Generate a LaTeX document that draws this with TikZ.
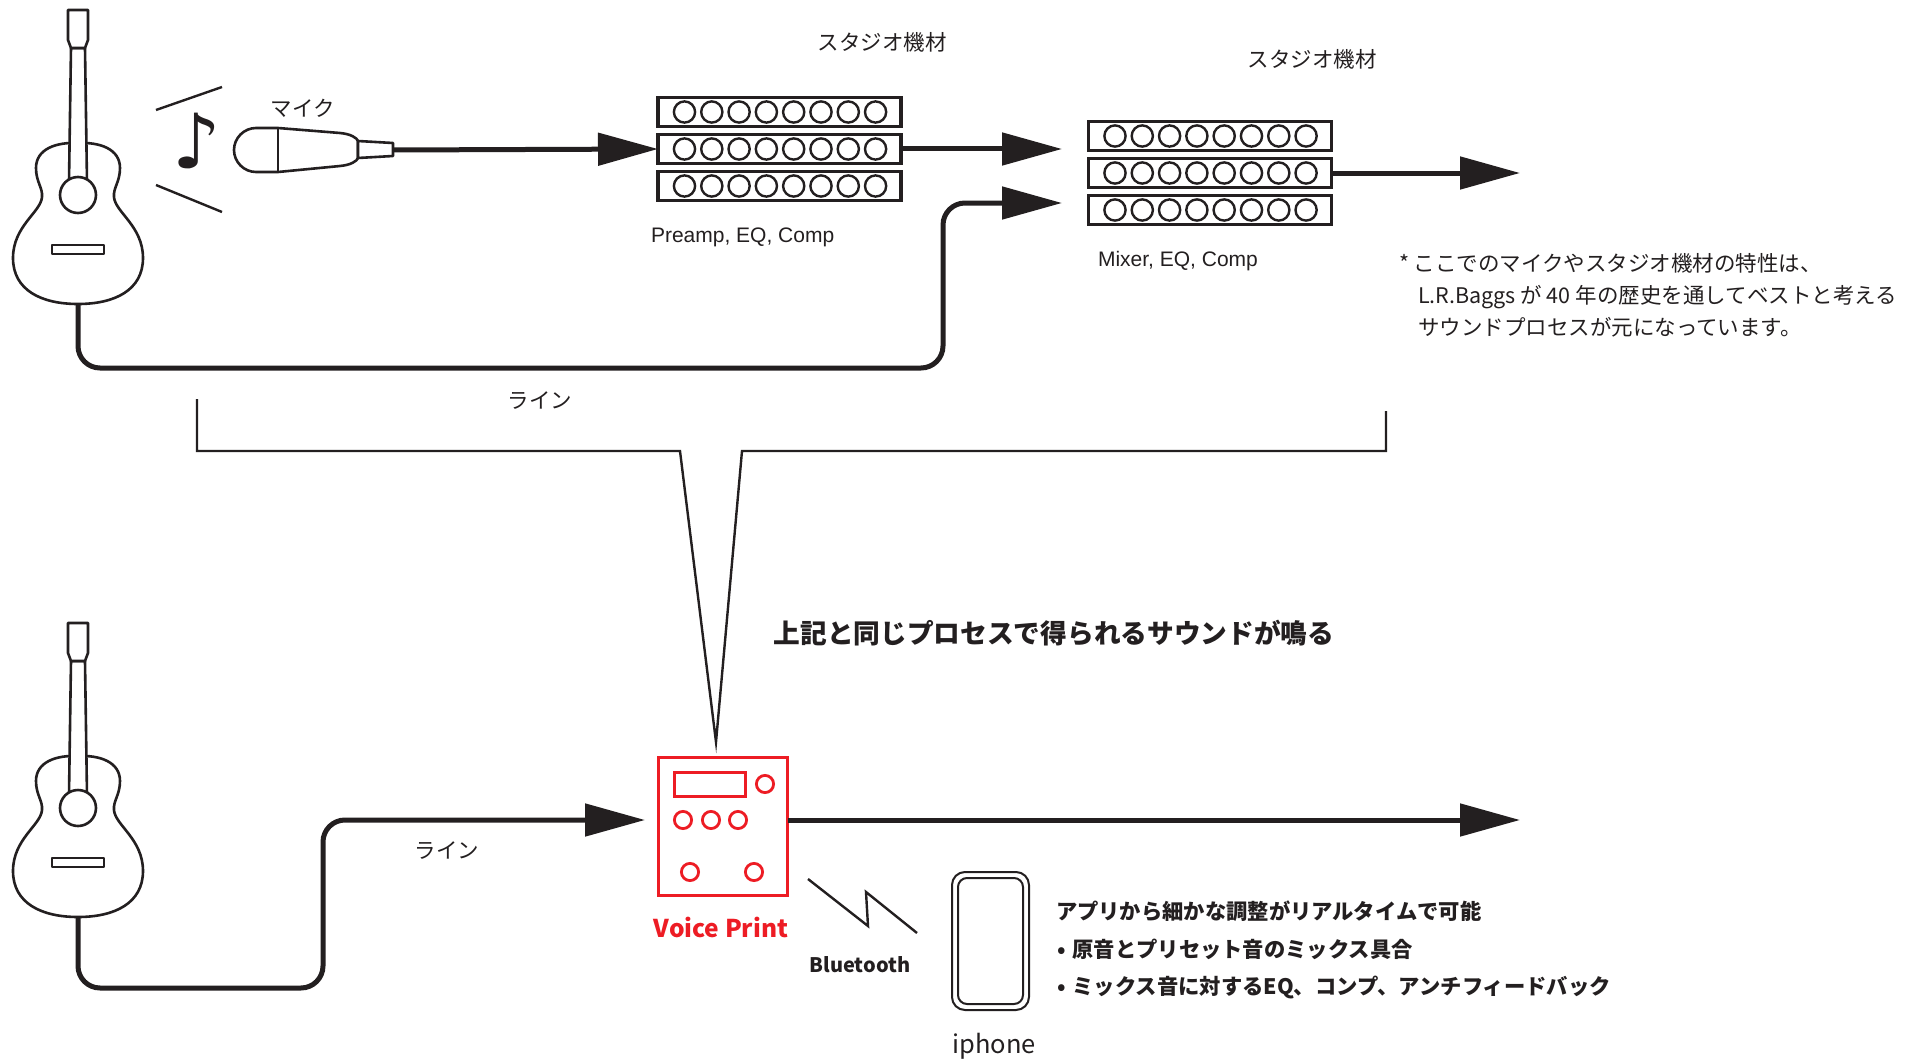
\documentclass[tikz,border=0pt]{standalone}
\usepackage{fontspec}
\setmainfont{Noto Sans CJK JP}
\newfontfamily\latinsans{Liberation Sans}
\newfontfamily\symbolsans{DejaVu Sans}
\usetikzlibrary{arrows.meta}
\definecolor{ink}{HTML}{231F20}
\definecolor{vpred}{HTML}{ED1C24}

\tikzset{
  outline/.style={draw=ink, line width=2.6pt, line join=round},
  guitar/.pic={
    % body
    \draw[outline, fill=white] (78,143) .. controls (100,142) and (120,149) .. (120,168)
      .. controls (120,182) and (113,188) .. (114,197)
      .. controls (115,212) and (143,226) .. (143,258)
      .. controls (143,290) and (115,304) .. (78,304)
      .. controls (41,304) and (13,290) .. (13,258)
      .. controls (13,226) and (41,212) .. (42,197)
      .. controls (43,188) and (36,182) .. (36,168)
      .. controls (36,149) and (56,142) .. (78,143) -- cycle;
    % neck
    \draw[outline, fill=white] (71,48) -- (69,182) -- (87,182) -- (85,48) -- cycle;
    % headstock
    \draw[outline, fill=white] (71,48) -- (68,40) -- (68,10) -- (88,10) -- (88,40) -- (85,48) -- cycle;
    % sound hole
    \draw[outline, fill=white] (78,195) circle[radius=18pt];
    % bridge
    \draw[outline] (52,245) rectangle (104,254);
    \coordinate (-jack) at (78,304);
  }
}

\begin{document}
\begin{tikzpicture}[x=1pt, y=-1pt,
  every node/.style={inner sep=0pt, outer sep=0pt, text=ink},
  cable/.style={draw=ink, line width=5pt, rounded corners=22pt},
  flow/.style={draw=ink, line width=5pt, -{Triangle[length=60pt,width=32pt]}},
  rackrow/.style={draw=ink, line width=3.4pt, fill=white, minimum width=243pt, minimum height=28.5pt},
  knob/.style={draw=ink, line width=2.4pt},
  thin/.style={draw=ink, line width=2.4pt},
  redline/.style={draw=vpred, line width=2.8pt},
  jp/.style={font=\fontsize{21.5}{26}\selectfont},
  jpbold/.style={font=\fontsize{21.3}{26}\selectfont\bfseries},
  latin/.style={font=\latinsans\fontsize{21}{25}\selectfont},
]
\useasboundingbox (0,0) rectangle (1914,1062);

% ---------- upper chain: guitar, microphone, studio racks ----------
\pic (g1) at (0,0) {guitar};

% sound lines and note
\draw[thin] (156,110) -- (222,87);
\draw[thin] (156,185) -- (222,212);
\node[font=\symbolsans\fontsize{76}{80}\selectfont] (note) at (197,141) {♪};

% microphone
\draw[outline, fill=white] (278,128) -- (340,133) .. controls (351,134) and (357,138) .. (358,141)
  -- (358,158) .. controls (357,161) and (351,165) .. (340,166) -- (278,172) -- (256,172)
  .. controls (244,172) and (234,162) .. (234,150) .. controls (234,138) and (244,128) .. (256,128) -- cycle;
\draw[outline] (278,128) -- (278,172);
\draw[outline, fill=white] (358,141) -- (393,143) -- (393,156) -- (358,158) -- cycle;
\coordinate (micout) at (393,150);
\node[jp] (miclabel) at (303,108) {マイク};

% rack: preamp
\node[rackrow] (r1a) at (779.5,112) {};
\node[rackrow] (r1b) at (779.5,149) {};
\node[rackrow] (r1c) at (779.5,186) {};
% rack: mixer
\node[rackrow] (r2a) at (1210,136) {};
\node[rackrow] (r2b) at (1210,173) {};
\node[rackrow] (r2c) at (1210,210) {};
\foreach \r in {r1a,r1b,r1c,r2a,r2b,r2c}
  \foreach \k in {0,...,7}
    \draw[knob] ([xshift={26.5pt+\k*27.3pt}]\r.west) circle[radius=10.6pt];

\node[jp] (studio1) at (882,42) {スタジオ機材};
\node[jp] (studio2) at (1312,59) {スタジオ機材};
\node[latin, anchor=base west] (prelabel) at (651,242) {Preamp, EQ, Comp};
\node[latin, anchor=base west] (mixlabel) at (1098,266) {Mixer, EQ, Comp};

\node[jp, anchor=base west] (note1) at (1399,271) {* ここでのマイクやスタジオ機材の特性は、};
\node[jp, anchor=base west] (note2) at (1418,303) {L.R.Baggs が 40 年の歴史を通してベストと考える};
\node[jp, anchor=base west] (note3) at (1418,335) {サウンドプロセスが元になっています。};

% signal flow
\coordinate (mixinA) at (1062,149);
\coordinate (mixinB) at (1062,203);
\coordinate (linebend) at (943,368);
\coordinate (mixout) at (1520,173);
\draw[flow] (micout) -- (r1b.west);
\draw[flow] (r1b.east) -- (mixinA);
\draw[flow] (r2b.east) -- (mixout);
\draw[cable, -{Triangle[length=60pt,width=32pt]}] (g1-jack) |- (linebend) |- (mixinB);
\node[jp] (line1) at (540,401) {ライン};

% bracket pointing down to the pedal
\draw[ink, line width=2.4pt, line join=miter] (197,399) -- (197,451) -- (680,451) -- (716,742)
  -- (742,451) -- (1386,451) -- (1386,411);

\node[font=\fontsize{26.7}{30}\selectfont\bfseries] (headline) at (1054,633) {上記と同じプロセスで得られるサウンドが鳴る};

% ---------- lower chain: guitar, Voice Print, iphone ----------
\pic (g2) at (0,613) {guitar};

\node[draw=vpred, line width=2.8pt, minimum width=129pt, minimum height=138pt] (vp) at (723,826.5) {};
\draw[redline] (674.5,772.5) rectangle (745.5,796.5);
\draw[redline] (765,784) circle[radius=8.6pt];
\foreach \cx in {683,711,738}
  \draw[redline] (\cx,820) circle[radius=8.6pt];
\draw[redline] (690,872) circle[radius=8.6pt];
\draw[redline] (754,872) circle[radius=8.6pt];
\node[anchor=base, text=vpred, font=\fontsize{24.5}{28}\selectfont\bfseries] (vplabel) at (721,937) {Voice Print};

\coordinate (vpin) at (645,820);
\coordinate (lowbend) at (323,988);
\coordinate (vpout) at (1520,820);
\draw[cable, -{Triangle[length=60pt,width=32pt]}] (g2-jack) |- (lowbend) |- (vpin);
\draw[flow] (vp.east |- vpin) -- (vpout);
\node[jp] (line2) at (447,851) {ライン};

% bluetooth link
\draw[thin, line join=miter] (808,879) -- (868,926) -- (866,892) -- (917,933);
\node[anchor=base, font=\fontsize{20}{24}\selectfont\bfseries] (bt) at (860,972) {Bluetooth};

% phone
\draw[ink, line width=2pt, rounded corners=13pt] (952,872) rectangle (1029,1010);
\draw[ink, line width=2pt, rounded corners=9pt] (958,878) rectangle (1023,1004);
\node[anchor=base, font=\fontsize{25.5}{30}\selectfont] (phonelabel) at (994,1053) {iphone};

\node[jpbold, anchor=base west] (app1) at (1056,919) {アプリから細かな調整がリアルタイムで可能};
\node[jpbold, anchor=base west] (app2) at (1057,957) {•\hspace*{7pt}原音とプリセット音のミックス具合};
\node[jpbold, anchor=base west] (app3) at (1057,994) {•\hspace*{7pt}ミックス音に対するEQ、コンプ、アンチフィードバック};
\end{tikzpicture}
\end{document}
